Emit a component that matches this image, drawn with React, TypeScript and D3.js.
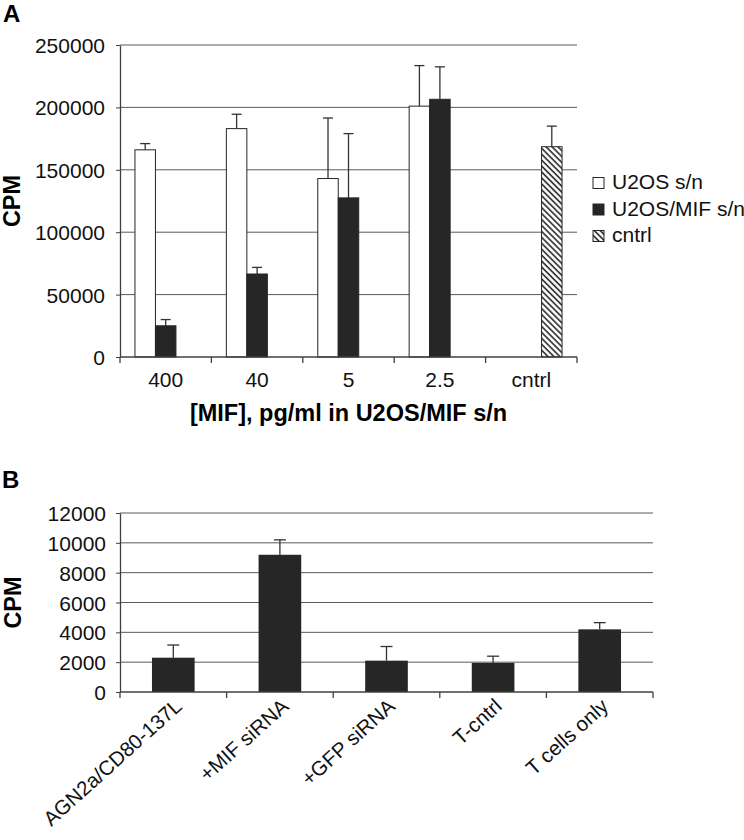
import React, {useEffect, useRef} from 'react';
import * as d3 from "d3";

// panel A
const catsA = ["400", "40", "5", "2.5", "cntrl"];
const seriesA = ["U2OS s/n", "U2OS/MIF s/n", "cntrl"];
const u2osVals = [166000, 183000, 143000, 201000, 0];
const u2osErr = [5000, 11500, 48500, 32500, 0];
const mifVals = [25000, 66500, 127500, 206500, 0];
const mifErr = [5000, 5300, 51500, 26000, 0];
const cntrlVals = [0, 0, 0, 0, 168500];
const cntrlErr = [0, 0, 0, 0, 16500];
const ticksA = [0, 50000, 100000, 150000, 200000, 250000];

// panel B
const catsB = ["AGN2a/CD80-137L", "+MIF siRNA", "+GFP siRNA", "T-cntrl", "T cells only"];
const valsB = [2300, 9200, 2100, 1950, 4200];
const errB = [850, 1000, 950, 450, 450];
const ticksB = [0, 2000, 4000, 6000, 8000, 10000, 12000];

const FONT = "'Liberation Sans', Arial, sans-serif";
const GRID = "#5a5a5a";
const AXIS = "#404040";
const DARK = "#262626";

const App = () => {

  const chart = useRef<SVGSVGElement>(null)

  useEffect(() => {
    const svg = d3.select(chart.current)
    svg.selectAll("*").remove()

    const defs = svg.append("defs")
    const pat = defs.append("pattern")
      .attr("id", "hatch")
      .attr("patternUnits", "userSpaceOnUse")
      .attr("width", 4.2)
      .attr("height", 4.2)
      .attr("patternTransform", "rotate(-45)")
    pat.append("rect").attr("width", 4.2).attr("height", 4.2).attr("fill", "white")
    pat.append("line")
      .attr("x1", 1).attr("x2", 1).attr("y1", 0).attr("y2", 4.2)
      .attr("stroke", DARK).attr("stroke-width", 1.6)

    const g = svg.append("g").style("font-family", FONT)

    // ---------- panel A ----------
    const left = 120, rightA = 577
    const yA = d3.scaleLinear().domain([0, 250000]).range([357, 45])
    const x0 = d3.scaleBand().domain(catsA).range([left, rightA]).paddingInner(0).paddingOuter(0)
    const x1 = d3.scaleBand().domain(seriesA).range([0, x0.bandwidth()]).paddingInner(0).paddingOuter(0.73)

    g.append("text").attr("x", 3).attr("y", 22)
      .attr("font-size", 24).attr("font-weight", "bold").text("A")

    g.append("g").selectAll("line")
      .data(ticksA.filter(d => d > 0))
      .join("line")
      .attr("x1", left).attr("x2", rightA)
      .attr("y1", d => yA(d)).attr("y2", d => yA(d))
      .attr("stroke", GRID).attr("stroke-width", 1)

    const rowsA = [
      {key: seriesA[0], vals: u2osVals, err: u2osErr, fill: "white"},
      {key: seriesA[1], vals: mifVals, err: mifErr, fill: DARK},
      {key: seriesA[2], vals: cntrlVals, err: cntrlErr, fill: "url(#hatch)"},
    ]

    rowsA.forEach(s => {
      const items = catsA.map((c, i) => ({c, v: s.vals[i], e: s.err[i]})).filter(d => d.v > 0)
      g.append("g").selectAll("line")
        .data(items)
        .join("g")
        .each(function (d) {
          const cx = x0(d.c)! + x1(s.key)! + x1.bandwidth() / 2
          const sel = d3.select(this)
          sel.append("line")
            .attr("x1", cx).attr("x2", cx)
            .attr("y1", yA(d.v)).attr("y2", yA(d.v + d.e))
            .attr("stroke", "#333").attr("stroke-width", 1.3)
          sel.append("line")
            .attr("x1", cx - 5).attr("x2", cx + 5)
            .attr("y1", yA(d.v + d.e)).attr("y2", yA(d.v + d.e))
            .attr("stroke", "#333").attr("stroke-width", 1.3)
        })
      g.append("g").selectAll("rect")
        .data(items)
        .join("rect")
        .attr("x", d => x0(d.c)! + x1(s.key)!)
        .attr("width", x1.bandwidth())
        .attr("y", d => yA(d.v))
        .attr("height", d => yA(0) - yA(d.v))
        .attr("fill", s.fill)
        .attr("stroke", DARK).attr("stroke-width", 1)
    })

    const axA = g.append("g")
      .attr("transform", `translate(${left},0)`)
      .call(d3.axisLeft(yA).tickValues(ticksA).tickSize(4).tickSizeOuter(0).tickPadding(11).tickFormat(d3.format("d")))
    axA.select(".domain").attr("stroke", AXIS).attr("stroke-width", 1.3)
    axA.selectAll(".tick line").attr("stroke", AXIS)
    axA.selectAll("text").attr("font-size", 21).attr("font-family", FONT).attr("fill", "#111").attr("dy", "0.36em")

    g.append("line").attr("x1", left).attr("x2", rightA).attr("y1", yA(0)).attr("y2", yA(0))
      .attr("stroke", AXIS).attr("stroke-width", 1.3)
    g.append("g").selectAll("line")
      .data([...catsA.map(c => x0(c)!), rightA])
      .join("line")
      .attr("x1", d => d).attr("x2", d => d)
      .attr("y1", yA(0)).attr("y2", yA(0) + 6)
      .attr("stroke", AXIS).attr("stroke-width", 1.3)
    g.append("g").selectAll("text")
      .data(catsA)
      .join("text")
      .attr("x", d => x0(d)! + x0.bandwidth() / 2)
      .attr("y", 387)
      .attr("text-anchor", "middle")
      .attr("font-size", 21).attr("fill", "#111")
      .text(d => d)

    g.append("text")
      .attr("x", (left + rightA) / 2).attr("y", 421)
      .attr("text-anchor", "middle")
      .attr("font-size", 23.5).attr("font-weight", "bold")
      .text("[MIF], pg/ml in U2OS/MIF s/n")

    g.append("text")
      .attr("transform", `translate(20,${(yA(0) + yA(250000)) / 2}) rotate(-90)`)
      .attr("text-anchor", "middle")
      .attr("font-size", 23.5).attr("font-weight", "bold")
      .text("CPM")

    // legend
    const leg = g.append("g")
    rowsA.forEach((s, i) => {
      const base = 189 + i * 26.5
      leg.append("rect")
        .attr("x", 593).attr("y", base - 11.5)
        .attr("width", 11).attr("height", 11)
        .attr("fill", s.fill).attr("stroke", DARK).attr("stroke-width", 1)
      leg.append("text")
        .attr("x", 612).attr("y", base)
        .attr("font-size", 21).attr("fill", "#111")
        .text(s.key)
    })

    // ---------- panel B ----------
    const rightB = 653
    const yB = d3.scaleLinear().domain([0, 12000]).range([692, 513])
    const xB = d3.scaleBand().domain(catsB).range([left, rightB]).paddingInner(0.6).paddingOuter(0.3)
    const stepB = xB.step()

    g.append("text").attr("x", 2).attr("y", 488)
      .attr("font-size", 24).attr("font-weight", "bold").text("B")

    g.append("g").selectAll("line")
      .data(ticksB.filter(d => d > 0))
      .join("line")
      .attr("x1", left).attr("x2", rightB)
      .attr("y1", d => yB(d)).attr("y2", d => yB(d))
      .attr("stroke", GRID).attr("stroke-width", 1)

    const itemsB = catsB.map((c, i) => ({c, v: valsB[i], e: errB[i]}))
    g.append("g").selectAll("g")
      .data(itemsB)
      .join("g")
      .each(function (d) {
        const cx = xB(d.c)! + xB.bandwidth() / 2
        const sel = d3.select(this)
        sel.append("line")
          .attr("x1", cx).attr("x2", cx)
          .attr("y1", yB(d.v)).attr("y2", yB(d.v + d.e))
          .attr("stroke", "#333").attr("stroke-width", 1.3)
        sel.append("line")
          .attr("x1", cx - 6).attr("x2", cx + 6)
          .attr("y1", yB(d.v + d.e)).attr("y2", yB(d.v + d.e))
          .attr("stroke", "#333").attr("stroke-width", 1.3)
      })
    g.append("g").selectAll("rect")
      .data(itemsB)
      .join("rect")
      .attr("x", d => xB(d.c)!)
      .attr("width", xB.bandwidth())
      .attr("y", d => yB(d.v))
      .attr("height", d => yB(0) - yB(d.v))
      .attr("fill", DARK)

    const axB = g.append("g")
      .attr("transform", `translate(${left},0)`)
      .call(d3.axisLeft(yB).tickValues(ticksB).tickSize(4).tickSizeOuter(0).tickPadding(10).tickFormat(d3.format("d")))
    axB.select(".domain").attr("stroke", AXIS).attr("stroke-width", 1.3)
    axB.selectAll(".tick line").attr("stroke", AXIS)
    axB.selectAll("text").attr("font-size", 21).attr("font-family", FONT).attr("fill", "#111").attr("dy", "0.36em")

    g.append("line").attr("x1", left).attr("x2", rightB).attr("y1", yB(0)).attr("y2", yB(0))
      .attr("stroke", AXIS).attr("stroke-width", 1.3)
    g.append("g").selectAll("line")
      .data([...catsB.map(c => xB(c)! - stepB * 0.3), rightB])
      .join("line")
      .attr("x1", d => d).attr("x2", d => d)
      .attr("y1", yB(0)).attr("y2", yB(0) + 6)
      .attr("stroke", AXIS).attr("stroke-width", 1.3)
    g.append("g").selectAll("text")
      .data(catsB)
      .join("text")
      .attr("transform", d => `translate(${xB(d)! + xB.bandwidth() / 2 + 10},708) rotate(-42)`)
      .attr("text-anchor", "end")
      .attr("font-size", 20.5).attr("fill", "#111")
      .text(d => d)

    g.append("text")
      .attr("transform", `translate(21,${(yB(0) + yB(12000)) / 2}) rotate(-90)`)
      .attr("text-anchor", "middle")
      .attr("font-size", 23.5).attr("font-weight", "bold")
      .text("CPM")

    return () => {
      svg.selectAll("*").remove()
    }
  }, []);

  return (
    <div id={"chartMIF"}>
      <svg ref={chart} width={744} height={840}
        style={{position: "absolute", left: 0, top: 0, background: "white"}}/>
    </div>
  );
};

export default App;
